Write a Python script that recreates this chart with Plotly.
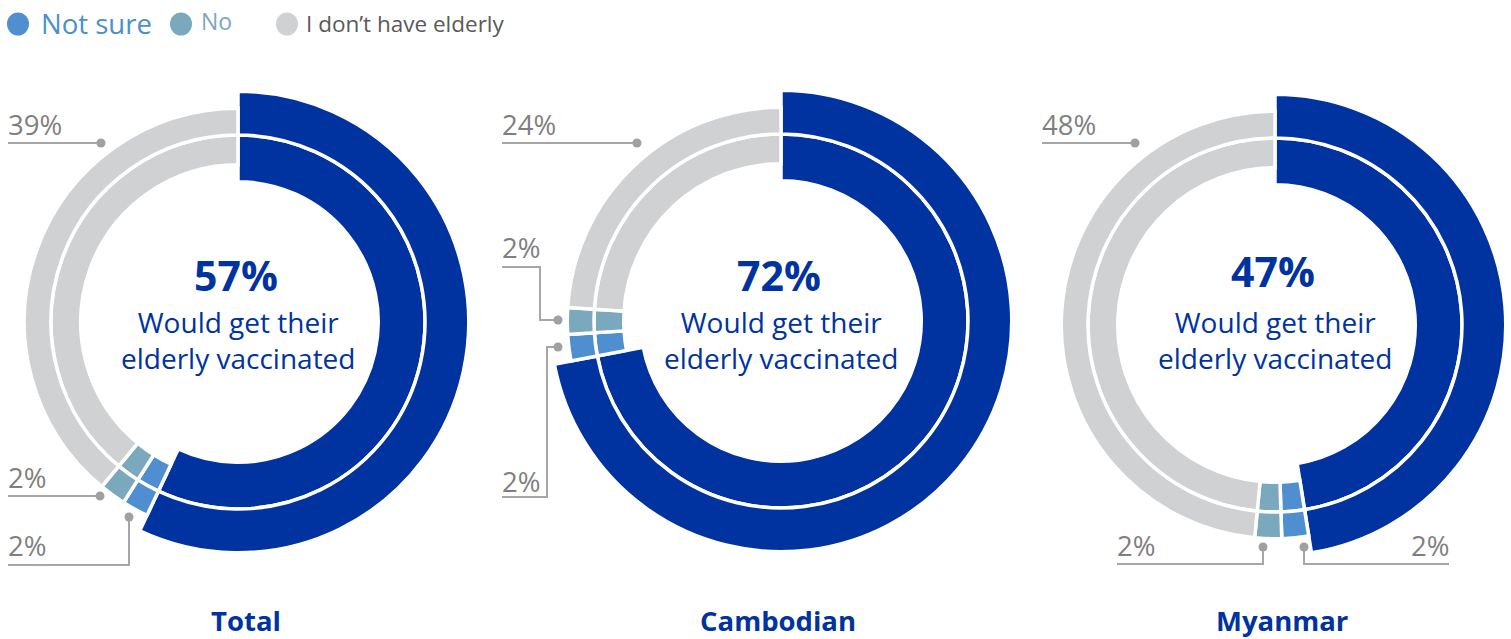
import plotly.graph_objects as go

# Survey results: would people get their elderly relatives vaccinated?
groups = ["Total", "Cambodian", "Myanmar"]
yes_pct = [57, 72, 47]
not_sure_pct = [2, 2, 2]
no_pct = [2, 2, 2]
no_elderly_pct = [39, 24, 48]

categories = ["Yes", "Not sure", "No", "I don\u2019t have elderly"]
colors = {
    "Yes": "#0033a0",
    "Not sure": "#4f8fd0",
    "No": "#7aa9bd",
    "I don\u2019t have elderly": "#d0d1d3",
}
center_caption = "Would get their<br>elderly vaccinated"

W, H = 1511, 639
BLUE = "#0033a0"
LABEL_GREY = "#7f7f7f"
LEADER_GREY = "#a6a6a6"
FONT = "Open Sans"

# donut centres in pixels and the ring radii (pixels == radial units)
centers = [(238, 322), (781, 321), (1275, 325)]
headline_y = [275, 275, 271]
R_DOMAIN = 232
STROKE = 3.5
half = STROKE / 2
R_SPLIT = 187            # white line between inner and outer ring
R_GREY_IN, R_GREY_OUT = 159 - half, 212 + half
R_YES_IN, R_YES_OUT = 142 - half, 229 + half


def px(x):
    return x / W


def py(y):
    return 1 - y / H


fig = go.Figure()

for i, grp in enumerate(groups):
    vals = [yes_pct[i], not_sure_pct[i], no_pct[i], no_elderly_pct[i]]
    total = sum(vals)
    start = 0.0
    pid = "polar" if i == 0 else f"polar{i + 1}"
    for cat, v in zip(categories, vals):
        span = v / total * 360.0
        mid = start + span / 2
        start += span
        if cat == "Yes":
            bases = [R_YES_IN, R_SPLIT]
            lengths = [R_SPLIT - R_YES_IN, R_YES_OUT - R_SPLIT]
        else:
            bases = [R_GREY_IN, R_SPLIT]
            lengths = [R_SPLIT - R_GREY_IN, R_GREY_OUT - R_SPLIT]
        fig.add_trace(go.Barpolar(
            r=lengths, base=bases, theta=[mid, mid], width=[span, span],
            marker=dict(color=colors[cat], line=dict(color="white", width=STROKE)),
            name=cat, showlegend=False, subplot=pid, hoverinfo="skip",
        ))

    cx, cy = centers[i]
    polar = dict(
        domain=dict(x=[px(cx - R_DOMAIN), px(cx + R_DOMAIN)],
                    y=[py(cy + R_DOMAIN), py(cy - R_DOMAIN)]),
        bgcolor="rgba(0,0,0,0)",
        radialaxis=dict(range=[0, R_DOMAIN], visible=False),
        angularaxis=dict(rotation=90, direction="clockwise", visible=False),
    )
    fig.update_layout(**{pid: polar})

annotations = []
shapes = []

# centre headline and caption
for i, grp in enumerate(groups):
    cx, cy = centers[i]
    annotations.append(dict(
        x=px(cx - 2), y=py(headline_y[i]), xref="paper", yref="paper",
        text=f"<b>{yes_pct[i]}%</b>", showarrow=False,
        font=dict(family=FONT, size=41, color=BLUE),
        xanchor="center", yanchor="middle"))
    annotations.append(dict(
        x=px(cx), y=py(340), xref="paper", yref="paper",
        text=center_caption, showarrow=False, align="center",
        font=dict(family=FONT, size=28, color=BLUE),
        xanchor="center", yanchor="middle"))

# group titles under each donut
title_pos = [(246, 620), (778, 620), (1282, 620)]
for grp, (tx, ty) in zip(groups, title_pos):
    annotations.append(dict(
        x=px(tx), y=py(ty), xref="paper", yref="paper",
        text=f"<b>{grp}</b>", showarrow=False,
        font=dict(family=FONT, size=27.5, color=BLUE),
        xanchor="center", yanchor="middle"))


def leader(points, dot, label, text_xy, anchor="left"):
    path = "M " + " L ".join(f"{px(x)},{py(y)}" for x, y in points)
    shapes.append(dict(type="path", path=path, xref="paper", yref="paper",
                       line=dict(color=LEADER_GREY, width=2)))
    r = 4.5
    shapes.append(dict(type="circle", xref="paper", yref="paper",
                       x0=px(dot[0] - r), x1=px(dot[0] + r),
                       y0=py(dot[1] + r), y1=py(dot[1] - r),
                       fillcolor="#a0a0a2", line=dict(width=0)))
    annotations.append(dict(
        x=px(text_xy[0]), y=py(text_xy[1]), xref="paper", yref="paper",
        text=label, showarrow=False, xanchor=anchor, yanchor="middle",
        font=dict(family=FONT, size=27.5, color=LABEL_GREY)))


# Total
leader([(8, 143), (101, 143)], (101, 143), f"{no_elderly_pct[0]}%", (6, 125))
leader([(8, 496), (100, 496)], (100, 496), f"{no_pct[0]}%", (6, 477))
leader([(8, 565), (129, 565), (129, 517)], (129, 517), f"{not_sure_pct[0]}%", (6, 545))
# Cambodian
leader([(502, 143), (637, 143)], (637, 143), f"{no_elderly_pct[1]}%", (500, 125))
leader([(502, 267), (540, 267), (540, 320), (558, 320)], (558, 320), f"{no_pct[1]}%", (500, 247))
leader([(558, 347), (547, 347), (547, 497), (502, 497)], (558, 347), f"{not_sure_pct[1]}%", (500, 481))
# Myanmar
leader([(1042, 143), (1135, 143)], (1135, 143), f"{no_elderly_pct[2]}%", (1040, 125))
leader([(1117, 564), (1263, 564), (1263, 547)], (1263, 547), f"{no_pct[2]}%", (1115, 545))
leader([(1304, 547), (1304, 564), (1449, 564)], (1304, 547), f"{not_sure_pct[2]}%", (1451, 545), anchor="right")

# legend row
legend_items = [
    ("Not sure", 18, 39, 27.5, "#4a8fd0", 24),
    ("No", 181, 199, 23, "#7aa9bf", 21),
    ("I don\u2019t have elderly", 287, 304, 22.5, "#595959", 24),
]
for cat, mx, tx, size, tcolor, ty in legend_items:
    r = 11.5
    shapes.append(dict(type="circle", xref="paper", yref="paper",
                       x0=px(mx - r + 0.5), x1=px(mx + r - 0.5),
                       y0=py(24 + r), y1=py(24 - r),
                       fillcolor=colors[cat], line=dict(width=0)))
    annotations.append(dict(
        x=px(tx), y=py(ty), xref="paper", yref="paper", text=cat,
        showarrow=False, xanchor="left", yanchor="middle",
        font=dict(family=FONT, size=size, color=tcolor)))

fig.update_layout(
    width=W, height=H,
    margin=dict(l=0, r=0, t=0, b=0),
    paper_bgcolor="white", plot_bgcolor="white",
    showlegend=False,
    annotations=annotations, shapes=shapes,
    font=dict(family=FONT),
)

fig.write_html("out.html")
